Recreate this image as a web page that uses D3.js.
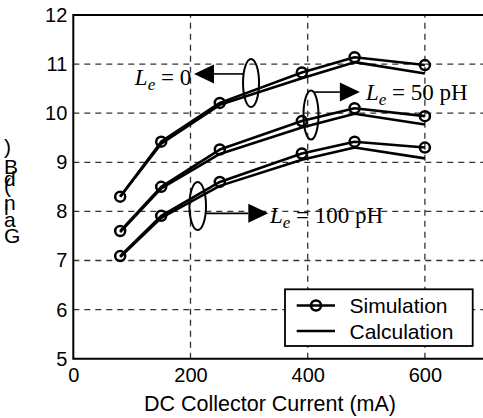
<!DOCTYPE html>
<html><head><meta charset="utf-8">
<script src="https://cdn.jsdelivr.net/npm/d3@7"></script>
<style>html,body{margin:0;padding:0;background:#fff;}svg{display:block;}</style>
</head><body>
<script>
// ---- data ----
const currents = [80, 150, 250, 390, 480, 600];
const sim0    = [8.30, 9.42, 10.21, 10.83, 11.14, 10.98];
const calc0   = [8.30, 9.38, 10.17, 10.71, 11.04, 10.81];
const sim50   = [7.60, 8.50, 9.26, 9.84, 10.10, 9.94];
const calc50  = [7.58, 8.47, 9.17, 9.71, 9.99, 9.77];
const sim100  = [7.09, 7.91, 8.60, 9.18, 9.42, 9.30];
const calc100 = [7.07, 7.87, 8.52, 9.05, 9.30, 9.08];
const xTicks = [0, 200, 400, 600];
const yTicks = [5, 6, 7, 8, 9, 10, 11, 12];
const xTitle = "DC Collector Current (mA)";
const yTitle = "Gain (dB)";
const legendLabels = ["Simulation", "Calculation"];

const W = 483, H = 418;
const svg = d3.select("body").append("svg").attr("width", W).attr("height", H);
svg.append("rect").attr("width", W).attr("height", H).attr("fill", "#fff");

const x = d3.scaleLinear().domain([0, 700]).range([73.3, 483.5]);
const y = d3.scaleLinear().domain([5, 12]).range([358.7, 15]);

// grid
const grid = svg.append("g").attr("stroke", "#333").attr("stroke-width", 1.3).attr("stroke-dasharray", "6,5");
grid.selectAll(".gy").data(yTicks.filter(v => v > 5 && v < 12)).enter().append("line")
  .attr("x1", x(0)).attr("x2", x(700)).attr("y1", d => y(d)).attr("y2", d => y(d));
grid.selectAll(".gx").data(xTicks.filter(v => v > 0)).enter().append("line")
  .attr("x1", d => x(d)).attr("x2", d => x(d)).attr("y1", y(5)).attr("y2", y(12));

// axes
const ax = svg.append("g").attr("transform", `translate(0,${y(5)})`)
  .call(d3.axisBottom(x).tickValues(xTicks).tickSize(0).tickPadding(9).tickFormat(d3.format("d")));
const ay = svg.append("g").attr("transform", `translate(${x(0)},0)`)
  .call(d3.axisLeft(y).tickValues(yTicks).tickSize(0).tickPadding(6).tickFormat(d3.format("d")));
[ax, ay].forEach(g => {
  g.select(".domain").remove();
  g.selectAll("text").attr("font-family", "Liberation Sans, Arial, sans-serif").attr("font-size", 20).attr("fill", "#000");
});
// frame
svg.append("path").attr("fill", "none").attr("stroke", "#000").attr("stroke-width", 2)
  .attr("d", `M${x(700)},${y(12)}H${x(0)}V${y(5)}H${x(700)}`);

// lines
const line = d3.line().x((d, i) => x(currents[i])).y(d => y(d));
const calcs = [calc0, calc50, calc100];
const sims = [sim0, sim50, sim100];
svg.append("g").selectAll("path.calc").data(calcs).enter().append("path")
  .attr("fill", "none").attr("stroke", "#000").attr("stroke-width", 2.6).attr("stroke-linejoin", "round")
  .attr("d", line);
svg.append("g").selectAll("path.sim").data(sims).enter().append("path")
  .attr("fill", "none").attr("stroke", "#000").attr("stroke-width", 2.6).attr("stroke-linejoin", "round")
  .attr("d", line);
sims.forEach(s => {
  svg.append("g").selectAll("circle").data(s).enter().append("circle")
    .attr("cx", (d, i) => x(currents[i])).attr("cy", d => y(d)).attr("r", 5)
    .attr("fill", "none").attr("stroke", "#000").attr("stroke-width", 2.5);
});

// annotations (anchored in data units)
const annots = [
  {ex: 303.3, ey: 10.615, rx: 8, ry: 24, ay: 10.80, a0: 289.6, tip: 206, dir: -1, tx: 105, dyT: 11.5, label: "0"},
  {ex: 405.6, ey: 9.963, rx: 7.5, ry: 24.5, ay: 10.43, a0: 409.5, tip: 489, dir: 1, tx: 499.5, dyT: 7.5, label: "50 pH"},
  {ex: 212.3, ey: 8.11, rx: 8.3, ry: 24, ay: 7.96, a0: 226.5, tip: 332.8, dir: 1, tx: 335.7, dyT: 9.5, label: "100 pH"}
];
const ag = svg.append("g");
annots.forEach((a) => {
  ag.append("ellipse").attr("cx", x(a.ex)).attr("cy", y(a.ey)).attr("rx", a.rx).attr("ry", a.ry)
    .attr("fill", "none").attr("stroke", "#000").attr("stroke-width", 2);
  const tipX = x(a.tip), baseX = tipX - a.dir * 20, ay_ = y(a.ay);
  ag.append("line").attr("x1", x(a.a0)).attr("x2", baseX).attr("y1", ay_).attr("y2", ay_)
    .attr("stroke", "#000").attr("stroke-width", 1.6);
  ag.append("path").attr("fill", "#000")
    .attr("d", `M${tipX},${ay_}L${baseX},${ay_ - 9.5}L${baseX},${ay_ + 9.5}Z`);
  const t = ag.append("text").attr("x", x(a.tx)).attr("y", ay_ + a.dyT)
    .attr("font-family", "Liberation Serif, Times New Roman, serif").attr("font-size", 23).attr("fill", "#000");
  t.append("tspan").attr("font-style", "italic").text("L");
  t.append("tspan").attr("font-style", "italic").attr("font-size", 17).attr("dy", 5).text("e");
  t.append("tspan").attr("dy", -5).text(" = " + a.label);
});

// axis titles
svg.append("text").attr("x", 270).attr("y", 411).attr("text-anchor", "middle")
  .attr("font-family", "Liberation Sans, Arial, sans-serif").attr("font-size", 21.5).text(xTitle);
// y title: rotated text whose glyphs are individually turned upright (stacked, as in the reference)
svg.append("text")
  .attr("transform", "translate(4,243) rotate(-90)")
  .attr("rotate", "90")
  .attr("dx", "0 0 0 0 0 0 0 0 6")
  .attr("font-family", "Liberation Sans, Arial, sans-serif").attr("font-size", 21)
  .text(yTitle);

// legend
const lg = svg.append("g");
lg.append("rect").attr("x", 285).attr("y", 289.3).attr("width", 187.7).attr("height", 56.7)
  .attr("fill", "#fff").attr("stroke", "#000").attr("stroke-width", 1.8);
const lys = [305.5, 331];
lg.selectAll("line").data(legendLabels).enter().append("line")
  .attr("x1", 296.7).attr("x2", 335).attr("y1", (d, i) => lys[i]).attr("y2", (d, i) => lys[i])
  .attr("stroke", "#000").attr("stroke-width", 2.6);
lg.append("circle").attr("cx", 316).attr("cy", lys[0]).attr("r", 5)
  .attr("fill", "none").attr("stroke", "#000").attr("stroke-width", 2.5);
lg.selectAll("text").data(legendLabels).enter().append("text")
  .attr("x", 349.5).attr("y", (d, i) => lys[i] + 7.5)
  .attr("font-family", "Liberation Sans, Arial, sans-serif").attr("font-size", 21).text(d => d);
</script>
</body></html>
